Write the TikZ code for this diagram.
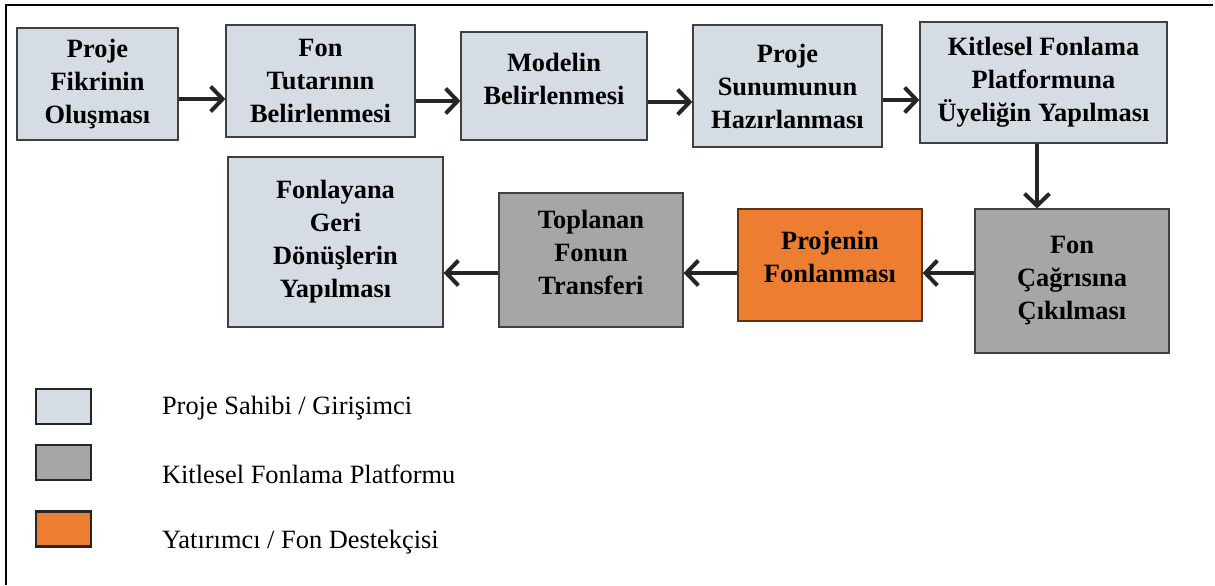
\documentclass[tikz,border=0pt]{standalone}
\usepackage{fontspec}
\setmainfont{Liberation Serif}
\usepackage{xcolor}
\usetikzlibrary{arrows.meta, positioning}
\definecolor{corGirisimci}{HTML}{D6DCE4}
\definecolor{corPlatform}{HTML}{A6A6A6}
\definecolor{corYatirimci}{HTML}{ED7D31}

\begin{document}
\begin{tikzpicture}[x=0.5pt, y=-0.5pt,
    every node/.style={font=\fontsize{13.2}{16.5}\selectfont},
    kutu/.style={rectangle, draw=black!75, line width=0.6pt, align=center,
      inner sep=2pt, font=\fontsize{13.2}{16.5}\selectfont\bfseries},
    girisimci/.style={kutu, fill=corGirisimci},
    platform/.style={kutu, fill=corPlatform},
    yatirimci/.style={kutu, fill=corYatirimci, draw=corYatirimci!40!black},
    ok/.style={-{Straight Barb[length=6pt, width=12.5pt]}, line width=2pt, black!85},
    lejant/.style={rectangle, line width=1.3pt, draw=black!85,
      minimum width=27.5pt, minimum height=17.5pt}]
  \useasboundingbox (0,0) rectangle (1215,585);
  % cerceve
  \draw[line width=1.3pt] (6,585) -- (6,5) -- (1213,5);

  % ust satir
  \node[girisimci, minimum width=80.5pt, minimum height=56pt] (b1) at (97.5,84)
    {Proje\\Fikrinin\\Oluşması};
  \node[girisimci, minimum width=94.5pt, minimum height=56pt] (b2) at (320.5,81)
    {Fon\\Tutarının\\Belirlenmesi};
  \node[girisimci, minimum width=93pt, minimum height=54pt, text depth=7pt] (b3) at (554,86)
    {Modelin\\Belirlenmesi};
  \node[girisimci, minimum width=94.5pt, minimum height=61pt] (b4) at (787.5,86)
    {Proje\\Sunumunun\\Hazırlanması};
  \node[girisimci, minimum width=123.5pt, minimum height=60.5pt] (b5) at (1043.5,82.5)
    {Kitlesel Fonlama\\Platformuna\\Üyeliğin Yapılması};

  % alt satir
  \node[platform, minimum width=97pt, minimum height=72pt, text depth=3pt] (c1) at (1072,281)
    {Fon\\Çağrısına\\Çıkılması};
  \node[yatirimci, minimum width=92pt, minimum height=56pt, text depth=8pt] (c2) at (830,265)
    {Projenin\\Fonlanması};
  \node[platform, minimum width=92pt, minimum height=67pt, text depth=8pt] (c3) at (591,260)
    {Toplanan\\Fonun\\Transferi};
  \node[girisimci, minimum width=107.5pt, minimum height=85pt] (c4) at (335.5,242)
    {Fonlayana\\Geri\\Dönüşlerin\\Yapılması};

  % oklar
  \draw[ok] (b1.east |- 0,99) -- (b2.west |- 0,99);
  \draw[ok] (b2.east |- 0,101) -- (b3.west |- 0,101);
  \draw[ok] (b3.east |- 0,102) -- (b4.west |- 0,102);
  \draw[ok] (b4.east |- 0,100) -- (b5.west |- 0,100);
  \draw[ok] (b5.south -| 1037,0) -- (c1.north -| 1037,0);
  \draw[ok] (c1.west |- 0,273) -- (c2.east |- 0,273);
  \draw[ok] (c2.west |- 0,273) -- (c3.east |- 0,273);
  \draw[ok] (c3.west |- 0,273) -- (c4.east |- 0,273);

  % lejant
  \node[lejant, fill=corGirisimci] (l1) at (63.5,406.5) {};
  \node[lejant, fill=corPlatform] (l2) at (63.5,462.5) {};
  \node[lejant, fill=corYatirimci] (l3) at (63.5,529) {};
  \node[anchor=west] (t1) at (155,408) {Proje Sahibi / Girişimci};
  \node[anchor=west] (t2) at (155,474) {Kitlesel Fonlama Platformu};
  \node[anchor=west] (t3) at (155,542) {Yatırımcı / Fon Destekçisi};
\end{tikzpicture}
\end{document}
